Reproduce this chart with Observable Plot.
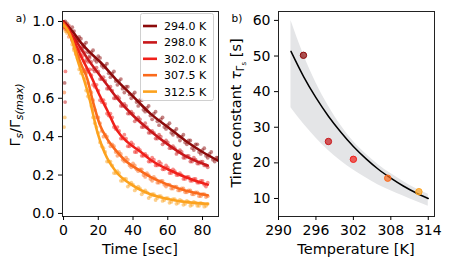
<!DOCTYPE html>
<html><head><meta charset="utf-8">
<script src="https://cdn.jsdelivr.net/npm/d3@7"></script>
<script src="https://cdn.jsdelivr.net/npm/@observablehq/plot@0.6"></script>
<style>
body{margin:0;background:#fff;font-family:"DejaVu Sans",sans-serif;}
#wrap{position:relative;width:450px;height:268px;overflow:hidden}
#a,#b{position:absolute;top:0;}
#a{left:0}#b{left:225px}
</style></head><body><div id="wrap"><div id="a"></div><div id="b"></div></div>
<script>
// ---------- data: panel a ----------
const seriesNames = ["294.0 K","298.0 K","302.0 K","307.5 K","312.5 K"];
const seriesColors = ["#8c0a0a","#c8171a","#f0201a","#fa6a1c","#fca21e"];

const timeLong  = [0,2,4,6,8,10,12,14,16,18,20,22,24,26,28,30,32,34,36,38,40,42,44,46,48,50,52,54,56,58,60,62,64,66,68,70,72,74,76,78,80,82,84,86,88,90];
const timeShort = [0,2,4,6,8,10,12,14,16,18,20,22,24,26,28,30,32,34,36,38,40,42,44,46,48,50,52,54,56,58,60,62,64,66,68,70,72,74,76,78,80,82];
const timeLongOdd  = [1,3,5,7,9,11,13,15,17,19,21,23,25,27,29,31,33,35,37,39,41,43,45,47,49,51,53,55,57,59,61,63,65,67,69,71,73,75,77,79,81,83,85,87,89];
const timeShortOdd = [1,3,5,7,9,11,13,15,17,19,21,23,25,27,29,31,33,35,37,39,41,43,45,47,49,51,53,55,57,59,61,63,65,67,69,71,73,75,77,79,81,83];

const scat294 = [0.99,0.99,0.95,0.95,0.90,0.91,0.88,0.84,0.84,0.80,0.82,0.77,0.77,0.73,0.73,0.69,0.69,0.65,0.66,0.62,0.62,0.58,0.59,0.54,0.55,0.51,0.52,0.48,0.49,0.45,0.46,0.42,0.43,0.40,0.40,0.37,0.38,0.34,0.36,0.32,0.33,0.30,0.31,0.28,0.29,0.26];
const scat294b = [1.00,0.96,0.97,0.91,0.92,0.86,0.89,0.82,0.85,0.79,0.81,0.76,0.78,0.71,0.74,0.67,0.70,0.63,0.66,0.60,0.63,0.56,0.59,0.53,0.56,0.49,0.53,0.46,0.50,0.44,0.47,0.41,0.44,0.38,0.41,0.36,0.38,0.33,0.36,0.31,0.34,0.29,0.32,0.27,0.29];
const scat298 = [0.98,0.96,0.95,0.90,0.90,0.85,0.84,0.79,0.79,0.74,0.74,0.70,0.69,0.65,0.64,0.60,0.60,0.56,0.56,0.52,0.52,0.49,0.49,0.45,0.45,0.42,0.42,0.39,0.40,0.37,0.37,0.34,0.34,0.32,0.32,0.29,0.30,0.27,0.28,0.26,0.27,0.25];
const scat298b = [0.97,0.98,0.91,0.92,0.86,0.87,0.80,0.81,0.75,0.76,0.70,0.71,0.65,0.66,0.60,0.61,0.56,0.57,0.52,0.53,0.48,0.50,0.45,0.47,0.42,0.43,0.39,0.41,0.36,0.38,0.34,0.35,0.31,0.33,0.29,0.30,0.27,0.29,0.26,0.27,0.25,0.24];
const scat302 = [0.97,0.98,0.93,0.91,0.85,0.83,0.79,0.74,0.72,0.66,0.64,0.58,0.57,0.51,0.50,0.44,0.43,0.39,0.39,0.35,0.36,0.32,0.33,0.30,0.30,0.27,0.28,0.25,0.26,0.23,0.24,0.21,0.22,0.20,0.20,0.18,0.19,0.17,0.18,0.16,0.17,0.14];
const scat302b = [0.96,0.97,0.90,0.90,0.82,0.82,0.75,0.75,0.67,0.67,0.59,0.59,0.52,0.52,0.45,0.45,0.39,0.41,0.35,0.37,0.32,0.34,0.30,0.31,0.27,0.29,0.25,0.27,0.23,0.25,0.21,0.23,0.20,0.21,0.18,0.19,0.17,0.18,0.16,0.17,0.15,0.16];
const scat307 = [0.97,0.95,0.93,0.86,0.84,0.77,0.74,0.68,0.63,0.54,0.50,0.43,0.41,0.37,0.36,0.32,0.32,0.28,0.29,0.25,0.26,0.23,0.23,0.20,0.21,0.18,0.19,0.16,0.17,0.15,0.15,0.13,0.14,0.12,0.13,0.11,0.12,0.10,0.11,0.09,0.10,0.085];
const scat307b = [0.99,0.92,0.91,0.83,0.82,0.74,0.73,0.64,0.59,0.50,0.47,0.40,0.40,0.35,0.35,0.30,0.31,0.27,0.28,0.24,0.25,0.22,0.23,0.19,0.20,0.17,0.18,0.16,0.17,0.14,0.15,0.13,0.14,0.12,0.13,0.11,0.12,0.10,0.11,0.09,0.10,0.09];
const scat312 = [0.99,0.94,0.93,0.85,0.81,0.73,0.70,0.61,0.56,0.47,0.42,0.35,0.32,0.27,0.25,0.21,0.21,0.17,0.18,0.15,0.15,0.13,0.13,0.11,0.11,0.09,0.10,0.08,0.09,0.07,0.08,0.06,0.075,0.055,0.065,0.05,0.06,0.045,0.055,0.04,0.05,0.04];
const scat312b = [0.95,0.95,0.88,0.84,0.75,0.74,0.64,0.60,0.50,0.45,0.37,0.34,0.27,0.27,0.21,0.22,0.17,0.18,0.14,0.16,0.12,0.14,0.10,0.12,0.08,0.10,0.07,0.09,0.065,0.08,0.055,0.075,0.05,0.07,0.045,0.065,0.04,0.06,0.04,0.055,0.035,0.05];

// early outlier points (series index, time, value)
const outSeries = [0,1,3,4,2,4];
const outTime   = [0.6,0.9,0.4,0.7,1.1,0.3];
const outValue  = [0.68,0.58,0.63,0.50,0.74,0.45];

const fitTime294 = [0,2,5,10,15,21,30,40,50,60,70,80,90];
const fit294     = [1.0,0.98,0.95,0.89,0.84,0.79,0.70,0.61,0.52,0.45,0.38,0.32,0.27];
const fitTime298 = [0,2,5,10,14.3,20,25,30,40,50,60,70,83];
const fit298     = [1.0,0.97,0.93,0.86,0.80,0.73,0.67,0.61,0.51,0.43,0.36,0.30,0.25];
const fitTime302 = [0,2,5,10,16.6,20,25,31,37,44.5,50,60,70,83];
const fit302     = [0.99,0.97,0.92,0.82,0.70,0.63,0.54,0.43,0.37,0.32,0.28,0.23,0.19,0.15];
const fitTime307 = [0,2,5,10,13.7,17,21,25,29,35,44.5,50,60,70,83];
const fit307     = [0.99,0.96,0.90,0.78,0.70,0.58,0.46,0.39,0.34,0.28,0.22,0.19,0.15,0.12,0.095];
const fitTime312 = [0,2,5,8,11.7,14.6,19.6,23,25,30,40,50,60,70,83];
const fit312     = [0.98,0.96,0.90,0.80,0.70,0.61,0.42,0.33,0.29,0.22,0.145,0.10,0.075,0.06,0.05];

const xTicksA = [0,20,40,60,80];
const yTicksA = [0,0.2,0.4,0.6,0.8,1.0];

// ---------- data: panel b ----------
const tempPts = [294,298,302,307.5,312.5];
const tauPts  = [50.2,26.0,21.0,15.7,11.9];
const fitTemp = [292,294,296,298,300,302,304,306,308,310,312,314];
const tauFit  = [51.3,44.3,38.3,33.1,28.6,24.6,21.2,18.2,15.7,13.5,11.6,10.0];
const tauUpper= [60,50.5,42.5,36,30.5,26,22.5,19.5,17,14.8,12.8,11.2];
const tauLower= [35.5,31,27,23.5,20.5,18,15.8,13.8,12.2,10.7,9.2,7.8];
const xTicksB = [290,296,302,308,314];
const yTicksB = [10,20,30,40,50,60];

// ---------- build tables ----------
const scatSets = [
  [timeLong,scat294,0],[timeLongOdd,scat294b,0],
  [timeShort,scat298,1],[timeShortOdd,scat298b,1],
  [timeShort,scat302,2],[timeShortOdd,scat302b,2],
  [timeShort,scat307,3],[timeShortOdd,scat307b,3],
  [timeShort,scat312,4],[timeShortOdd,scat312b,4]];
const fitSets = [[fitTime294,fit294],[fitTime298,fit298],[fitTime302,fit302],[fitTime307,fit307],[fitTime312,fit312]];
const scatter = [];
scatSets.forEach(([ts,vs,i])=>ts.forEach((t,j)=>scatter.push({s:i,t,v:vs[j]})));
outSeries.forEach((s,j)=>scatter.push({s,t:outTime[j],v:outValue[j]}));
const fits = [];
fitSets.forEach(([ts,vs],i)=>ts.forEach((t,j)=>fits.push({s:i,t,v:vs[j]})));

const font = "DejaVu Sans";
const axisStyle = {fontFamily:font,fontSize:"14px",color:"#000",background:"transparent",overflow:"visible"};

const A = Plot.plot({
  width:225,height:268,marginLeft:62,marginRight:7,marginTop:11,marginBottom:52,
  style:axisStyle,
  x:{domain:[-0.6,89.2]},
  y:{domain:[-0.016,1.052]},
  marks:[
    Plot.dot(scatter,{x:"t",y:"v",r:1.9,fill:d=>seriesColors[d.s],fillOpacity:0.5,stroke:"none",clip:true}),
    ...seriesNames.map((n,i)=>Plot.line(fits.filter(d=>d.s===i),{x:"t",y:"v",stroke:seriesColors[i],strokeWidth:2.6,curve:"monotone-x",clip:true})),
    Plot.frame({stroke:"#222",strokeWidth:1}),
    Plot.axisX({ticks:xTicksA,tickSize:4,tickPadding:5,label:null,fontSize:14}),
    Plot.axisY({ticks:yTicksA,tickSize:4,tickPadding:4,label:null,tickFormat:d3.format(".1f"),fontSize:14})
  ]
});
document.getElementById("a").appendChild(A);

const B = Plot.plot({
  width:225,height:268,marginLeft:53,marginRight:16,marginTop:11,marginBottom:52,
  style:axisStyle,
  x:{domain:[290,315]},
  y:{domain:[4.94,62.5]},
  marks:[
    Plot.areaY(fitTemp.map((T,i)=>({T,lo:tauLower[i],hi:tauUpper[i]})),{x:"T",y1:"lo",y2:"hi",fill:"#e4e5e7",curve:"monotone-x"}),
    Plot.line(fitTemp.map((T,i)=>({T,tau:tauFit[i]})),{x:"T",y:"tau",stroke:"#000",strokeWidth:1.5,curve:"monotone-x"}),
    Plot.dot(tempPts.map((T,i)=>({T,tau:tauPts[i],i})),{x:"T",y:"tau",r:3.2,fill:d=>seriesColors[d.i],fillOpacity:0.7,stroke:d=>seriesColors[d.i],strokeWidth:1}),
    Plot.frame({stroke:"#222",strokeWidth:1}),
    Plot.axisX({ticks:xTicksB,tickSize:4,tickPadding:5,label:null,fontSize:14}),
    Plot.axisY({ticks:yTicksB,tickSize:4,tickPadding:4,label:null,fontSize:14})
  ]
});
document.getElementById("b").appendChild(B);

// ---------- texts & legend ----------
const sa = d3.select(A), sb = d3.select(B);
function addText(sel, x, y, str, opts={}) {
  return sel.append("text").attr("x",x).attr("y",y).attr("font-family",font)
    .attr("font-size",opts.size||14.5).attr("text-anchor",opts.anchor||"middle").attr("fill","#000").text(str);
}
addText(sa,140,254,"Time [sec]");
addText(sb,131,254,"Temperature [K]");
addText(sa,21,22,"a)",{size:10.5});
addText(sb,12,22,"b)",{size:10.5});

// y-label a: Γs/Γs(max)
const la = sa.append("text").attr("transform","translate(20,115) rotate(-90)")
  .attr("font-family",font).attr("font-size",14.5).attr("text-anchor","middle").attr("fill","#000");
la.append("tspan").text("Γ");
la.append("tspan").attr("font-style","italic").attr("font-size",10.5).attr("dy",3).text("s");
la.append("tspan").attr("dy",-3).text("/Γ");
la.append("tspan").attr("font-style","italic").attr("font-size",10.5).attr("dy",3).text("s(max)");

// y-label b: Time constant τΓs [s]
const lb = sb.append("text").attr("transform","translate(16,113) rotate(-90)")
  .attr("font-family",font).attr("font-size",14.5).attr("text-anchor","middle").attr("fill","#000");
lb.append("tspan").text("Time constant ");
lb.append("tspan").attr("font-style","italic").text("τ");
lb.append("tspan").attr("font-size",10).attr("dy",3).text("Γ");
lb.append("tspan").attr("font-size",7).attr("dy",2).text("s");
lb.append("tspan").attr("dy",-5).text(" [s]");

// legend
const lg = sa.append("g");
lg.append("rect").attr("x",140.5).attr("y",13.5).attr("width",73).attr("height",87).attr("rx",2)
  .attr("fill","#fff").attr("fill-opacity",0.85).attr("stroke","#d0d0d0");
seriesNames.forEach((n,i)=>{
  const y = 26 + i*16.4;
  lg.append("line").attr("x1",143).attr("x2",157).attr("y1",y).attr("y2",y).attr("stroke",seriesColors[i]).attr("stroke-width",2.6);
  addText(lg,164,y+4,n,{size:11,anchor:"start"});
});
</script></body></html>
